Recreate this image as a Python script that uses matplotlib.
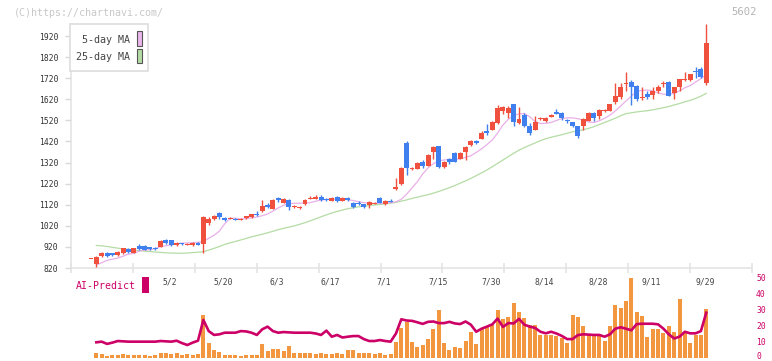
import numpy as np
import matplotlib
matplotlib.use("Agg")
import matplotlib.pyplot as plt
from matplotlib.patches import Rectangle

nan = np.nan

tick_idx = [15, 25, 35, 45, 55, 65, 75, 85, 95, 105, 115]
tick_labels = ["5/2", "5/20", "6/3", "6/17", "7/1", "7/15", "7/30", "8/14", "8/28", "9/11", "9/29"]

opens = [866, 839, 877, 891, 889, 882, 890, 909, 893, 925,
         922, 918, 916, 921, 953, 953, 928, 937, 931, 928,
         940, 934, 1032, 1052, 1080, 1056, 1053, 1053, 1050, 1056,
         1063, 1078, 1090, 1119, 1100, 1150, 1130, 1142, 1108, 1105,
         1122, 1150, 1147, 1158, 1148, 1138, 1155, 1140, 1150, 1130,
         1130, 1122, 1119, 1126, 1152, 1122, 1140, 1193, 1217, 1414,
         1291, 1290, 1321, 1304, 1371, 1398, 1300, 1337, 1367, 1337,
         1371, 1403, 1422, 1432, 1470, 1474, 1506, 1566, 1553, 1598,
         1506, 1545, 1495, 1474, 1528, 1519, 1537, 1558, 1556, 1522,
         1511, 1493, 1493, 1517, 1556, 1542, 1566, 1566, 1609, 1632,
         1695, 1702, 1683, 1630, 1645, 1640, 1661, 1694, 1703, 1651,
         1680, 1712, 1711, 1753, 1763, 1699]
highs = [866, 876, 897, 895, 891, 899, 917, 915, 917, 932,
         930, 921, 919, 952, 958, 955, 944, 940, 937, 942,
         943, 1068, 1060, 1072, 1085, 1060, 1060, 1056, 1056, 1068,
         1078, 1090, 1142, 1126, 1145, 1158, 1150, 1146, 1118, 1112,
         1145, 1160, 1168, 1168, 1154, 1155, 1160, 1157, 1156, 1133,
         1140, 1125, 1137, 1132, 1155, 1142, 1147, 1248, 1298, 1420,
         1298, 1322, 1330, 1360, 1400, 1400, 1326, 1341, 1370, 1370,
         1400, 1425, 1428, 1470, 1505, 1516, 1593, 1590, 1590, 1600,
         1585, 1555, 1507, 1540, 1535, 1536, 1548, 1572, 1560, 1528,
         1513, 1495, 1530, 1558, 1560, 1572, 1574, 1600, 1696, 1699,
         1749, 1710, 1686, 1680, 1660, 1680, 1690, 1705, 1708, 1677,
         1716, 1750, 1742, 1775, 1775, 1975]
lows = [866, 826, 874, 872, 875, 879, 888, 890, 891, 905,
        903, 905, 906, 919, 936, 926, 926, 930, 928, 926,
        928, 893, 1025, 1048, 1050, 1042, 1050, 1046, 1046, 1050,
        1058, 1066, 1086, 1105, 1098, 1133, 1128, 1095, 1104, 1098,
        1120, 1146, 1145, 1140, 1140, 1136, 1135, 1138, 1138, 1103,
        1120, 1105, 1105, 1122, 1128, 1120, 1132, 1190, 1214, 1261,
        1286, 1288, 1296, 1302, 1335, 1295, 1296, 1315, 1322, 1335,
        1330, 1400, 1408, 1430, 1450, 1472, 1504, 1552, 1530, 1495,
        1502, 1490, 1453, 1472, 1520, 1514, 1534, 1548, 1520, 1508,
        1488, 1438, 1474, 1515, 1515, 1525, 1560, 1564, 1596, 1621,
        1660, 1593, 1610, 1615, 1620, 1620, 1652, 1680, 1635, 1620,
        1660, 1705, 1706, 1722, 1720, 1690]
closes = [866, 874, 893, 877, 880, 897, 915, 896, 915, 910,
          906, 909, 909, 949, 940, 929, 940, 935, 933, 940,
          930, 1063, 1052, 1066, 1063, 1048, 1056, 1050, 1052, 1066,
          1076, 1072, 1114, 1110, 1142, 1142, 1146, 1111, 1113, 1107,
          1142, 1154, 1158, 1142, 1145, 1153, 1138, 1153, 1143, 1108,
          1125, 1110, 1134, 1129, 1130, 1138, 1136, 1204, 1296, 1296,
          1294, 1316, 1306, 1356, 1395, 1297, 1324, 1324, 1324, 1367,
          1395, 1422, 1414, 1461, 1462, 1514, 1580, 1585, 1580, 1514,
          1526, 1495, 1459, 1514, 1530, 1530, 1545, 1552, 1533, 1516,
          1495, 1446, 1526, 1556, 1530, 1569, 1570, 1598, 1635, 1680,
          1699, 1680, 1621, 1634, 1632, 1659, 1677, 1698, 1635, 1677,
          1716, 1716, 1740, 1750, 1727, 1888]

ma5 = [nan, 834, 845, 856, 862, 867, 876, 886, 889, 900,
       905, 906, 912, 921, 926, 930, 934, 938, 939, 940,
       942, 946, 961, 975, 995, 1030, 1056, 1056, 1052, 1054,
       1058, 1062, 1068, 1076, 1090, 1105, 1118, 1125, 1127, 1127,
       1128, 1130, 1137, 1142, 1145, 1146, 1146, 1146, 1144, 1140,
       1134, 1130, 1127, 1126, 1127, 1127, 1130, 1134, 1146, 1170,
       1200, 1229, 1266, 1295, 1315, 1328, 1332, 1335, 1336, 1337,
       1345, 1352, 1368, 1385, 1405, 1427, 1460, 1498, 1525, 1545,
       1550, 1553, 1537, 1515, 1505, 1506, 1510, 1520, 1528, 1532,
       1532, 1528, 1522, 1512, 1510, 1518, 1530, 1545, 1565, 1588,
       1612, 1635, 1658, 1662, 1664, 1660, 1650, 1644, 1644, 1648,
       1660, 1675, 1685, 1702, 1718, 1735]
ma25 = [nan, 927, 925, 922, 918, 914, 911, 908, 905, 902,
        900, 898, 896, 894, 892, 891, 890, 890, 891, 893,
        895, 897, 905, 913, 922, 932, 939, 946, 953, 960,
        968, 974, 980, 987, 994, 1002, 1008, 1014, 1020, 1027,
        1035, 1044, 1053, 1063, 1072, 1081, 1088, 1095, 1101, 1106,
        1110, 1113, 1116, 1119, 1121, 1124, 1127, 1131, 1137, 1143,
        1150, 1156, 1162, 1168, 1175, 1183, 1192, 1201, 1211, 1222,
        1233, 1245, 1258, 1271, 1285, 1300, 1316, 1332, 1348, 1364,
        1379, 1391, 1402, 1413, 1424, 1433, 1440, 1446, 1452, 1459,
        1466, 1470, 1475, 1482, 1490, 1500, 1510, 1520, 1530, 1542,
        1552, 1556, 1560, 1563, 1566, 1570, 1575, 1580, 1586, 1593,
        1600, 1608, 1615, 1624, 1635, 1648]

volume = [nan, 3.1, 2.5, 1.5, 2.0, 2.2, 2.5, 2.0, 2.0, 2.0,
          2.0, 1.5, 2.2, 3.1, 3.1, 2.5, 3.1, 2.2, 2.5, 2.2,
          2.5, 27.0, 9.4, 5.2, 3.9, 2.2, 2.2, 2.2, 1.5, 2.2,
          2.2, 2.2, 8.8, 4.6, 5.6, 5.6, 4.6, 7.6, 3.1, 3.1,
          3.1, 3.1, 2.5, 3.1, 2.5, 2.5, 3.1, 3.0, 5.2, 5.2,
          3.1, 3.1, 3.1, 2.5, 3.1, 2.2, 2.5, 10.2, 19.0, 22.7,
          10.2, 7.0, 8.1, 11.9, 18.1, 30.0, 9.4, 5.0, 7.0, 6.5,
          11.0, 16.4, 8.8, 18.1, 20.2, 21.7, 30.0, 24.4, 25.8, 34.8,
          29.0, 25.0, 20.6, 20.6, 14.4, 14.4, 14.4, 14.0, 13.0, 9.8,
          27.1, 25.8, 20.2, 15.3, 14.0, 15.3, 11.0, 20.2, 33.1, 31.5,
          35.9, 50.3, 29.0, 26.5, 13.5, 18.1, 18.1, 16.0, 20.2, 16.4,
          36.9, 16.4, 9.4, 14.8, 14.4, 30.6]
ai_predict = [nan, 10.0, 10.4, 9.0, 9.8, 10.8, 10.6, 10.4, 10.4, 10.4,
              10.4, 10.4, 10.4, 10.8, 10.6, 10.4, 11.0, 9.5, 8.3, 9.8,
              11.0, 24.0, 17.0, 14.6, 15.0, 16.0, 16.0, 16.0, 17.0, 16.8,
              16.0, 14.6, 18.1, 19.8, 17.0, 16.0, 16.4, 16.2, 16.0, 16.0,
              16.0, 16.0, 15.5, 14.6, 17.3, 13.5, 14.6, 13.0, 13.5, 13.9,
              13.9, 12.0, 10.8, 10.8, 11.4, 10.8, 10.4, 15.5, 24.4, 23.6,
              23.4, 22.5, 21.5, 22.8, 23.0, 22.0, 22.0, 22.8, 21.8, 21.4,
              23.0, 21.0, 16.6, 18.5, 19.8, 21.2, 24.8, 19.6, 22.0, 21.8,
              24.6, 21.0, 19.8, 19.0, 16.6, 15.6, 16.6, 15.5, 14.0, 12.0,
              12.0, 14.5, 15.0, 14.8, 14.6, 14.6, 13.5, 15.0, 18.5, 19.4,
              18.5, 17.5, 21.4, 21.6, 21.6, 21.6, 21.2, 18.5, 15.0, 12.4,
              13.5, 16.6, 15.6, 15.6, 17.0, 28.5]
ai_ticks = [0, 10, 20, 30, 40, 50]

W, H = 772, 361
RED = "#f0513f"
BLUE = "#3f7fee"
ORANGE = "#f2973f"
MAGENTA = "#cc0066"
GRID = "#e2e2e2"
MONO = "DejaVu Sans Mono"


def fx(x):
    return x / W


def fy(y):
    return 1 - y / H


fig = plt.figure(figsize=(W / 100, H / 100), dpi=100)

# price panel
ax = fig.add_axes([fx(71), fy(268), fx(752) - fx(71), fy(24) - fy(268)])
x = np.arange(len(closes))
o = np.array(opens, dtype=float)
c = np.array(closes, dtype=float)
colors = np.where(c >= o, RED, BLUE)

ax.plot(x, ma25, color="#b4dca4", lw=0.9, zorder=2)
ax.plot(x, ma5, color="#e8b0e8", lw=0.9, zorder=2)
ax.vlines(x, lows, highs, colors=colors, lw=1.0, zorder=3)
body_h = np.maximum(np.abs(c - o), 5)
body_lo = np.minimum(o, c) - np.where(np.abs(c - o) < 5, 2.5, 0)
ax.bar(x, body_h, bottom=body_lo, width=0.92, color=colors, lw=0, zorder=4)

xmin, xmax = -3.74, 123.55
ax.set_xlim(xmin, xmax)
ax.set_ylim(820, 1977)
ax.set_yticks(np.arange(820, 1921, 100))
ax.tick_params(axis="y", direction="out", length=4, width=1, color="#d8d8d8",
               labelsize=5.8, labelcolor="#333333", pad=5)
for lab in ax.get_yticklabels():
    lab.set_family(MONO)
ax.set_xticks(np.linspace(xmin, xmax, 12))
ax.set_xticklabels([])
ax.tick_params(axis="x", direction="inout", length=7, width=1.1, color=GRID)
for s in ["top", "right"]:
    ax.spines[s].set_visible(False)
for s in ["left", "bottom"]:
    ax.spines[s].set_color(GRID)
    ax.spines[s].set_linewidth(1.1)

for i, lab in zip(tick_idx, tick_labels):
    ax.text(i - 0.2, -0.0574, lab, transform=ax.get_xaxis_transform(), ha="center",
            va="center", fontsize=5.8, family=MONO, color="#444444")

# volume / AI-Predict panel
ax2 = fig.add_axes([fx(71), fy(358.3), fx(752) - fx(71), fy(278.3) - fy(358.3)])
ax2.bar(x, volume, width=0.75, color=ORANGE, lw=0, zorder=2)
ax2.plot(x, ai_predict, color=MAGENTA, lw=1.9, zorder=3)
ax2.set_xlim(xmin, xmax)
ax2.set_ylim(0, 50)
ax2.set_xticks([])
ax2.set_yticks([])
for s in ax2.spines.values():
    s.set_visible(False)
ax2.patch.set_alpha(0)
for v in ai_ticks:
    ax2.text(1.006, max(v, 1.0), str(v), transform=ax2.get_yaxis_transform(),
             ha="left", va="center", fontsize=5.8, family=MONO, color=MAGENTA,
             clip_on=False)

# header texts
fig.text(fx(14), fy(12.5), "(C)https://chartnavi.com/", fontsize=7.2, family=MONO,
         color="#c8c8c8", ha="left", va="center")
fig.text(fx(757), fy(12), "5602", fontsize=7.6, family=MONO, color="#b5b5b5",
         ha="right", va="center")

# legend box
fig.add_artist(Rectangle((fx(70), fy(71)), fx(148) - fx(70), fy(24) - fy(71),
                         transform=fig.transFigure, facecolor="white",
                         edgecolor="#dddddd", lw=1.2, zorder=5))
fig.text(fx(130), fy(40), "5-day MA", fontsize=7.2, family=MONO, color="#444444",
         ha="right", va="center", zorder=6)
fig.text(fx(130), fy(57), "25-day MA", fontsize=7.2, family=MONO, color="#444444",
         ha="right", va="center", zorder=6)
fig.add_artist(Rectangle((fx(137), fy(46)), fx(142) - fx(137), fy(31) - fy(46),
                         transform=fig.transFigure, facecolor="#ebb6eb",
                         edgecolor="#555555", lw=0.8, zorder=6))
fig.add_artist(Rectangle((fx(137), fy(63)), fx(142) - fx(137), fy(49) - fy(63),
                         transform=fig.transFigure, facecolor="#b4dca4",
                         edgecolor="#555555", lw=0.8, zorder=6))

# AI-Predict label
fig.text(fx(75.5), fy(286), "AI-Predict", fontsize=7.1, family=MONO, color=MAGENTA,
         ha="left", va="center")
fig.add_artist(Rectangle((fx(142), fy(293)), fx(149) - fx(142), fy(277) - fy(293),
                         transform=fig.transFigure, facecolor=MAGENTA, lw=0))

fig.savefig("out.png", dpi=100)
